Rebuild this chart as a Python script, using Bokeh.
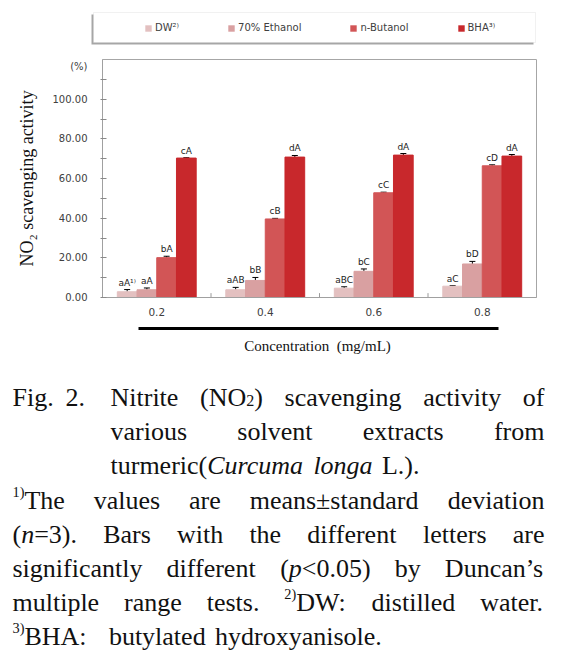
import re
from bokeh.plotting import figure
from bokeh.models import (ColumnDataSource, FactorRange, Range1d, Legend, LegendItem, Whisker,
                          TeeHead, FixedTicker, NumeralTickFormatter, BoxAnnotation)
from bokeh.transform import dodge
from bokeh.core.properties import value
from bokeh.embed import file_html
from bokeh.resources import INLINE

# ---------------- data ----------------
concentrations = ["0.2", "0.4", "0.6", "0.8"]
series_names = ["DW²⁾", "70% Ethanol", "n-Butanol", "BHA³⁾"]
dw = [2.9, 3.9, 4.7, 5.7]
dw_err = [1.1, 1.2, 0.7, 0.3]
ethanol = [3.9, 8.6, 13.2, 16.9]
ethanol_err = [0.9, 1.5, 1.2, 1.3]
butanol = [20.1, 39.6, 52.8, 66.4]
butanol_err = [0.7, 0.3, 0.3, 0.5]
bha = [70.3, 70.8, 71.8, 71.3]
bha_err = [0.2, 0.8, 0.8, 0.8]
letters_dw = ["aA¹⁾", "aAB", "aBC", "aC"]
letters_ethanol = ["aA", "bB", "bC", "bD"]
letters_butanol = ["bA", "cB", "cC", "cD"]
letters_bha = ["cA", "dA", "dA", "dA"]
y_ticks = [0, 20, 40, 60, 80, 100]
y_tick_marks = [0, 10, 20, 30, 40, 50, 60, 70, 80, 90, 100, 110]
y_unit_level = 116.5

y_title = "NO₂ scavenging activity"
y_unit = "(%)"
x_title = "Concentration\u00a0 (mg/mL)"
caption_label = ["Fig.", "2."]
caption_title = ["Nitrite (NO{sub:2}) scavenging activity of",
                 "various solvent extracts from",
                 "turmeric({i:Curcuma} {i:longa} L.)."]
footnotes = ["{sup:1)}The values are means±standard deviation",
             "({i:n}=3). Bars with the different letters are",
             "significantly different ({i:p}<0.05) by Duncan’s",
             "multiple range tests. {sup:2)}DW: distilled water.",
             "{sup:3)}BHA:\u2002 butylated hydroxyanisole."]

# ---------------- styles ----------------
colors = ["#E3C0C0", "#D9A0A1", "#D25556", "#C8282C"]
offsets = [-0.2727, -0.0909, 0.0909, 0.2727]
bar_w = 0.1818
SANS = "DejaVu Sans"
SERIF = "Liberation Serif"
W = 565


def blank(fig):
    fig.xgrid.visible = False
    fig.ygrid.visible = False
    fig.outline_line_color = None


# ---------------- legend strip ----------------
top = figure(width=W, height=50, x_range=Range1d(0, W), y_range=Range1d(50, 0), min_border=0,
             x_axis_location=None, y_axis_location=None, output_backend="svg", toolbar_location=None)
blank(top)
top.add_layout(BoxAnnotation(left=91, right=533, top=14, bottom=44, fill_color="#9C9C9C",
                             fill_alpha=0.9, line_alpha=0))
top.add_layout(BoxAnnotation(left=93, right=535, top=12, bottom=42, fill_color="white",
                             fill_alpha=1, line_color="#D2D2D2", line_width=1))
# swatch carriers for the legend (zero-size bars)
swatches = [top.vbar(x=[0], top=[0], bottom=[0], width=0, fill_color=c, line_color=None) for c in colors]
legend = Legend(items=[LegendItem(label=n, renderers=[r]) for n, r in zip(series_names, swatches)],
                orientation="horizontal", location=(135, 8), margin=0, padding=9,
                spacing=48, glyph_width=8, glyph_height=8, label_standoff=3, label_height=10,
                label_text_font=SANS, label_text_font_size="10px", label_text_color="#404040",
                background_fill_alpha=0, border_line_alpha=0)
top.add_layout(legend)

# ---------------- chart ----------------
p = figure(x_range=FactorRange(factors=concentrations), y_range=Range1d(0, 120),
           frame_width=434, frame_height=238,
           min_border_left=102, min_border_right=29, min_border_top=9, min_border_bottom=28,
           output_backend="svg", toolbar_location=None)
p.xgrid.visible = False
p.ygrid.visible = False
p.outline_line_color = "#A6A6A6"

series = [(dw, dw_err, letters_dw), (ethanol, ethanol_err, letters_ethanol),
          (butanol, butanol_err, letters_butanol), (bha, bha_err, letters_bha)]
for (vals, errs, lets), off, col, name in zip(series, offsets, colors, series_names):
    src = ColumnDataSource(dict(conc=concentrations, top=vals,
                                upper=[v + e for v, e in zip(vals, errs)], label=lets))
    p.vbar(x=dodge("conc", off, range=p.x_range), top="top", width=bar_w, source=src,
           fill_color=col, line_color=col, name=name)
    p.add_layout(Whisker(source=src, base=dodge("conc", off, range=p.x_range), upper="upper", lower="top",
                         line_color="black", line_width=1,
                         upper_head=TeeHead(size=6, line_color="black", line_width=1), lower_head=None))
    p.text(x=dodge("conc", off, range=p.x_range), y="upper", text="label", source=src,
           text_align="center", text_baseline="bottom", y_offset=-2,
           text_font=value(SANS), text_font_size="9px", text_color="#222222")

sep_src = ColumnDataSource(dict(conc=concentrations[:-1]))
p.segment(x0=dodge("conc", 0.5, range=p.x_range), x1=dodge("conc", 0.5, range=p.x_range),
          y0=0, y1=2.2, source=sep_src, line_color="#9A9A9A", line_width=1)

yax = p.yaxis[0]
yax.ticker = FixedTicker(ticks=y_ticks + [y_unit_level], minor_ticks=y_tick_marks)
yax.formatter = NumeralTickFormatter(format="0.00")
yax.major_label_overrides = {y_unit_level: y_unit}
yax.axis_label = y_title
yax.axis_label_text_font = SERIF
yax.axis_label_text_font_size = "18px"
yax.axis_label_text_font_style = "normal"
yax.axis_label_text_color = "#111111"
yax.axis_label_standoff = 13
yax.major_label_text_font = SANS
yax.major_label_text_font_size = "10px"
yax.major_label_text_color = "#404040"
yax.major_label_standoff = 13
yax.major_tick_out = 0
yax.major_tick_in = 0
yax.minor_tick_out = 2
yax.minor_tick_in = 4
yax.minor_tick_line_color = "#8A8A8A"
yax.axis_line_color = "#A0A0A0"

xax = p.xaxis[0]
xax.major_label_text_font = SANS
xax.major_label_text_font_size = "10.5px"
xax.major_label_text_color = "#404040"
xax.major_label_standoff = 10
xax.major_tick_in = 0
xax.major_tick_out = 0
xax.axis_line_color = "#A0A0A0"

# ---------------- caption ----------------
Y0 = 325
cap = figure(width=W, height=660 - Y0, x_range=Range1d(0, W), y_range=Range1d(660, Y0),
             min_border=0, x_axis_location=None, y_axis_location=None,
             output_backend="svg", toolbar_location=None)
blank(cap)

cap.segment(x0=[138], y0=[328], x1=[498], y1=[328], line_width=3, line_color="black")
cap.text(x=[317], y=[345], text=[x_title], text_align="center", text_baseline="middle",
         text_font=value(SERIF), text_font_size="15px", text_color="#111111")

FS = 26
W_R = {' ': 250, '\u2002': 500, '%': 833, '(': 333, ')': 333, ',': 250, '-': 333, '.': 250,
       '/': 278, ':': 278, '<': 564, '=': 564, '±': 564, '’': 333,
       'A': 722, 'B': 667, 'C': 667, 'D': 722, 'E': 611, 'F': 556, 'G': 722, 'H': 722, 'I': 333,
       'L': 611, 'M': 889, 'N': 722, 'O': 722, 'P': 556, 'R': 667, 'S': 556, 'T': 611, 'W': 944,
       'a': 444, 'b': 500, 'c': 444, 'd': 500, 'e': 444, 'f': 333, 'g': 500, 'h': 500, 'i': 278,
       'j': 278, 'k': 500, 'l': 278, 'm': 778, 'n': 500, 'o': 500, 'p': 500, 'q': 500, 'r': 333,
       's': 389, 't': 278, 'u': 500, 'v': 500, 'w': 722, 'x': 500, 'y': 500, 'z': 444}
W_I = dict(W_R)
W_I.update({'a': 500, 'f': 278, 'm': 722, 'r': 389, 'C': 667, 'L': 556})
SIZES = {'r': FS, 'i': FS, 'sup': round(FS * 0.55, 1), 'sub': round(FS * 0.62, 1)}
SHIFT = {'r': 0, 'i': 0, 'sup': -8.5, 'sub': 3}


def parse(word):
    segs = []
    for part in re.split(r"(\{\w+:[^}]*\})", word):
        if not part:
            continue
        m = re.match(r"\{(\w+):([^}]*)\}", part)
        segs.append((m.group(2), m.group(1)) if m else (part, 'r'))
    return segs


def seg_w(text, style):
    tab = W_I if style == 'i' else W_R
    return sum(tab.get(ch, 500) for ch in text) / 1000.0 * SIZES[style]


groups = {k: dict(x=[], y=[], text=[]) for k in SIZES}


def place(line, left, right, base, justify):
    words = [parse(w) for w in line.split(" ")]
    widths = [sum(seg_w(t, s) for t, s in w) for w in words]
    if justify and len(words) > 1:
        gap = (right - left - sum(widths)) / (len(words) - 1)
    else:
        gap = 0.36 * FS
    x = left
    for w, ww in zip(words, widths):
        cx = x
        for t, s in w:
            g = groups[s]
            g["x"].append(cx)
            g["y"].append(base + SHIFT[s])
            g["text"].append(t.rstrip("\u2002"))
            cx += seg_w(t, s)
        x += ww + gap


L, R, IND = 12, 544, 110
b0, dy = 397, 34.2
place(caption_label[0], 12, 0, b0, False)
place(caption_label[1], 65, 0, b0, False)
place(caption_title[0], IND, R, b0, True)
place(caption_title[1], IND, R, b0 + dy, True)
place(caption_title[2], IND, R, b0 + 2 * dy, False)
for k, fl in enumerate(footnotes):
    place(fl, L, R, b0 + (3 + k) * dy, k < len(footnotes) - 1)

for s, g in groups.items():
    if not g["text"]:
        continue
    cap.text(x="x", y="y", text="text", source=ColumnDataSource(g),
             text_font=value(SERIF), text_font_size=f"{SIZES[s]}px",
             text_font_style="italic" if s == 'i' else "normal",
             text_baseline="alphabetic", text_align="left", text_color="#111111")

open("out.html", "w").write(file_html([top, p, cap], INLINE))
